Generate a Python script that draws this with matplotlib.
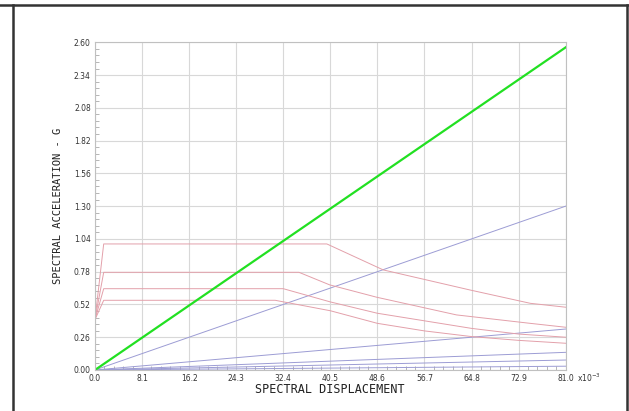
import matplotlib.pyplot as plt
from matplotlib.lines import Line2D
from matplotlib.ticker import AutoMinorLocator, FixedLocator

# spectral displacement in units of 1e-3
demand_x = [0.0, 81.0]
demand_y = [0.0, 2.56]

# response spectra (ADRS), one per level
spec_x = [
    [0.0, 1.5, 39.9, 49.6, 64.5, 74.9, 81.0],
    [0.0, 1.5, 35.1, 40.4, 48.5, 62.2, 74.9, 81.0],
    [0.0, 1.5, 32.4, 40.5, 48.6, 56.7, 64.8, 72.9, 81.0],
    [0.0, 1.5, 31.0, 40.5, 48.6, 56.7, 64.8, 72.9, 81.0],
]
spec_y = [
    [0.40, 1.00, 1.00, 0.794, 0.635, 0.529, 0.498],
    [0.40, 0.775, 0.775, 0.675, 0.577, 0.437, 0.37, 0.339],
    [0.40, 0.645, 0.645, 0.54, 0.45, 0.39, 0.33, 0.285, 0.26],
    [0.40, 0.553, 0.553, 0.47, 0.37, 0.31, 0.265, 0.235, 0.212],
]

# capacity lines from the origin, end values at 81.0
cap_end = [1.30, 0.325, 0.14, 0.079, 0.03]

xticks = [0.0, 8.1, 16.2, 24.3, 32.4, 40.5, 48.6, 56.7, 64.8, 72.9, 81.0]
yticks = [0.00, 0.26, 0.52, 0.78, 1.04, 1.30, 1.56, 1.82, 2.08, 2.34, 2.60]

fig = plt.figure(figsize=(6.29, 4.11), dpi=100)
ax = fig.add_axes([0.151, 0.0998, 0.7484, 0.7973])

for ye in cap_end:
    ax.plot([0.0, 81.0], [0.0, ye], color='#9c9cd4', lw=0.7)
for xs, ys in zip(spec_x, spec_y):
    ax.plot(xs, ys, color='#e3a0aa', lw=0.7)
ax.plot(demand_x, demand_y, color='#22e022', lw=1.6)

ax.set_xlim(0, 81.0)
ax.set_ylim(0, 2.60)
ax.xaxis.set_major_locator(FixedLocator(xticks))
ax.yaxis.set_major_locator(FixedLocator(yticks))
ax.set_xticklabels(['%.1f' % v for v in xticks])
ax.set_yticklabels(['%.2f' % v for v in yticks])
ax.xaxis.set_minor_locator(AutoMinorLocator(5))
ax.yaxis.set_minor_locator(AutoMinorLocator(5))
ax.tick_params(which='both', direction='in', colors='#aaaaaa', labelcolor='#333333',
               labelsize=5.5, pad=3)
ax.tick_params(which='major', length=0)
ax.tick_params(which='minor', length=3)
ax.grid(True, which='major', color='#d8d8d8', lw=0.8)
for s in ax.spines.values():
    s.set_color('#c0c0c0')
    s.set_linewidth(0.8)

ax.annotate(r'x10$^{-3}$', xy=(1.0, 0.0), xycoords='axes fraction',
            xytext=(8, -5.5), textcoords='offset points', fontsize=5.5,
            color='#333333', ha='left', va='center')

fig.text(0.525, 0.052, 'SPECTRAL DISPLACEMENT', ha='center', va='center',
         family='DejaVu Sans Mono', fontsize=8.5, color='#222222')
fig.text(0.093, 0.5, 'SPECTRAL ACCELERATION - G', ha='center', va='center',
         rotation=90, family='DejaVu Sans Mono', fontsize=7.5, color='#222222')

# outer frame
frame = dict(color='#333333', lw=1.8, transform=fig.transFigure)
fig.add_artist(Line2D([0, 1], [0.989, 0.989], **frame))
fig.add_artist(Line2D([0.021, 0.021], [0, 0.989], **frame))
fig.add_artist(Line2D([0.997, 0.997], [0, 0.989], **frame))

fig.savefig('out.png', dpi=100)
